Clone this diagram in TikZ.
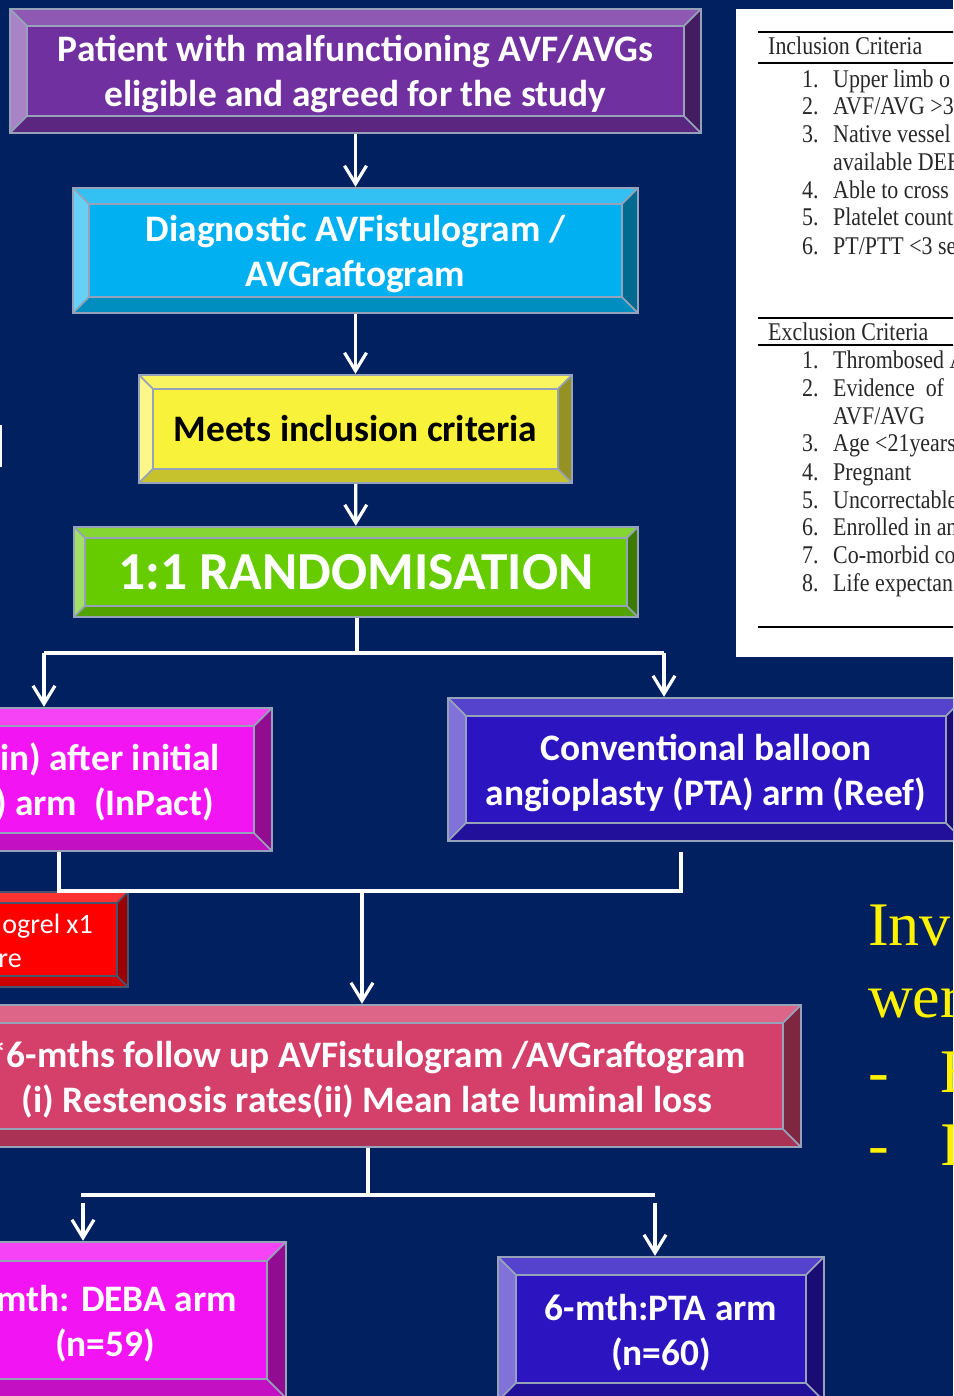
\documentclass[tikz,border=0pt]{standalone}
\usepackage{fontspec}
\setmainfont{Liberation Serif}
\newfontfamily\calibri{Carlito}
\newfontfamily\tabserif{Liberation Serif}[FakeStretch=0.86]
\usetikzlibrary{arrows.meta,calc}
\newcommand{\lowstrut}{\rule{0pt}{33pt}}

\definecolor{navy}{RGB}{0,32,96}
\definecolor{edgegray}{RGB}{150,162,185}
\definecolor{rededge}{RGB}{70,85,110}
\definecolor{purplebox}{RGB}{112,48,160}
\definecolor{cyanbox}{RGB}{0,176,240}
\definecolor{yellowbox}{RGB}{248,243,58}
\definecolor{greenbox}{RGB}{102,204,0}
\definecolor{magentabox}{RGB}{242,20,242}
\definecolor{bluebox}{RGB}{44,20,192}
\definecolor{redbox}{RGB}{255,0,0}
\definecolor{crimsonbox}{RGB}{212,64,106}
\definecolor{tabink}{RGB}{40,40,40}

\begin{document}
\begin{tikzpicture}[x=1pt,y=-1pt,
  bevel width/.store in=\bevw, bevel width=18pt,
  bevel edge/.store in=\bevedge, bevel edge=edgegray,
  bevelbox/.style={draw=\bevedge, line width=2.4pt, fill=#1, inner sep=0pt, align=center, text=white,
    font=\calibri\bfseries\fontsize{37.4}{45}\selectfont,
    path picture={
      \coordinate (bNW) at (path picture bounding box.north west);
      \coordinate (bSE) at (path picture bounding box.south east);
      \coordinate (bNE) at (bSE |- bNW);
      \coordinate (bSW) at (bNW |- bSE);
      \coordinate (iNW) at ([xshift=\bevw,yshift=-\bevw]bNW);
      \coordinate (iNE) at ([xshift=-\bevw,yshift=-\bevw]bNE);
      \coordinate (iSE) at ([xshift=-\bevw,yshift=\bevw]bSE);
      \coordinate (iSW) at ([xshift=\bevw,yshift=\bevw]bSW);
      \filldraw[draw=\bevedge, line width=1.6pt, fill=#1!80!white] (bNW) -- (bNE) -- (iNE) -- (iNW) -- cycle;
      \filldraw[draw=\bevedge, line width=1.6pt, fill=#1!60!white] (bNW) -- (iNW) -- (iSW) -- (bSW) -- cycle;
      \filldraw[draw=\bevedge, line width=1.6pt, fill=#1!80!black] (bSW) -- (iSW) -- (iSE) -- (bSE) -- cycle;
      \filldraw[draw=\bevedge, line width=1.6pt, fill=#1!60!black] (bNE) -- (bSE) -- (iSE) -- (iNE) -- cycle;
    }},
  armtext/.style={inner sep=0pt, text=white, font=\calibri\bfseries\fontsize{37.4}{45}\selectfont},
  tabtext/.style={inner sep=0pt, anchor=base west, text=tabink, font=\tabserif\fontsize{25.5}{28}\selectfont},
  yellowtext/.style={inner sep=0pt, anchor=base west, text=yellow, font=\fontsize{62}{72}\selectfont},
  link/.style={draw=white, line width=3.2pt},
  arr/.style={link, -{Straight Barb[length=18pt,width=22pt]}}]
\useasboundingbox (0,0) rectangle (953,1396);
\clip (0,0) rectangle (953,1396);
\fill[navy] (0,0) rectangle (953,1396);
\fill[white] (-5,425) rectangle (1.5,467);

% criteria table on the right
\fill[white] (736,9) rectangle (990,657);
\draw[black, line width=1.3pt] (758,32) -- (990,32);
\draw[black, line width=1.3pt] (758,63) -- (990,63);
\node[tabtext] (inc) at (768,55) {Inclusion Criteria};
\node[tabtext] (inc1) at (802,88) {\makebox[31pt][l]{1.}Upper limb o};
\node[tabtext] (inc2) at (802,115) {\makebox[31pt][l]{2.}AVF/AVG >3};
\node[tabtext] (inc3) at (802,143) {\makebox[31pt][l]{3.}Native vessel};
\node[tabtext] (inc3b) at (833,171) {available DEB};
\node[tabtext] (inc4) at (802,199) {\makebox[31pt][l]{4.}Able to cross};
\node[tabtext] (inc5) at (802,226) {\makebox[31pt][l]{5.}Platelet count};
\node[tabtext] (inc6) at (802,255) {\makebox[31pt][l]{6.}PT/PTT <3 se};
\draw[black, line width=1.3pt] (758,318) -- (990,318);
\draw[black, line width=1.3pt] (758,345) -- (990,345);
\node[tabtext] (exc) at (768,340) {Exclusion Criteria};
\node[tabtext] (exc1) at (802,368) {\makebox[31pt][l]{1.}Thrombosed A};
\node[tabtext] (exc2) at (802,396) {\makebox[31pt][l]{2.}Evidence\ \ of};
\node[tabtext] (exc2b) at (833,424) {AVF/AVG};
\node[tabtext] (exc3) at (802,451) {\makebox[31pt][l]{3.}Age <21years};
\node[tabtext] (exc4) at (802,480) {\makebox[31pt][l]{4.}Pregnant};
\node[tabtext] (exc5) at (802,508) {\makebox[31pt][l]{5.}Uncorrectable};
\node[tabtext] (exc6) at (802,535) {\makebox[31pt][l]{6.}Enrolled in an};
\node[tabtext] (exc7) at (802,563) {\makebox[31pt][l]{7.}Co-morbid co};
\node[tabtext] (exc8) at (802,591) {\makebox[31pt][l]{8.}Life expectan};
\draw[black, line width=1.3pt] (758,627) -- (990,627);

% yellow slide text
\node[yellowtext] (inv) at (868,945) {Inv};
\node[yellowtext] (wer) at (868,1017) {wer};
\node[yellowtext] (bul1) at (868,1092) {\makebox[72pt][l]{-}E};
\node[yellowtext] (bul2) at (868,1165) {\makebox[72pt][l]{-}I};

% main column
\node[bevelbox=purplebox, bevel width=17pt, minimum width=691pt, minimum height=124pt] (patient) at (355.5,71) {\lowstrut Patient with malfunctioning AVF/AVGs\\eligible and agreed for the study};
\node[bevelbox=cyanbox, bevel width=16pt, minimum width=565pt, minimum height=125pt] (diag) at (355.5,250.5) {\lowstrut Diagnostic AVFistulogram /\\AVGraftogram};
\node[bevelbox=yellowbox, bevel width=14pt, minimum width=433pt, minimum height=108pt, text=black] (meets) at (355.5,429) {Meets inclusion criteria};
\node[bevelbox=greenbox, bevel width=11pt, minimum width=564pt, minimum height=90pt, font=\calibri\bfseries\fontsize{53.5}{60}\selectfont] (rand) at (356,572) {1:1 RANDOMISATION};

% the two arms
\node[bevelbox=magentabox, minimum width=572pt, minimum height=143pt] (deba) at (-14,779.5) {};
\node[armtext, anchor=base east] (debaA) at (220,770) {in) after initial};
\node[armtext, anchor=base east] (debaB) at (214,815) {) arm\ \ (InPact)};
\node[bevelbox=bluebox, minimum width=516pt, minimum height=143pt] (pta) at (706,769.5) {\lowstrut Conventional balloon\\angioplasty (PTA) arm (Reef)};
\node[bevelbox=redbox, bevel width=11pt, bevel edge=rededge, minimum width=328pt, minimum height=95pt] (clop) at (-36,939.5) {};
\node[armtext, font=\calibri\fontsize{28}{34}\selectfont, anchor=base east] (clopA) at (93,933) {ogrel x1};
\node[armtext, font=\calibri\fontsize{28}{34}\selectfont, anchor=base east] (clopB) at (22,967) {re};

% follow up and outcomes
\node[bevelbox=crimsonbox, minimum width=868pt, minimum height=142pt] (follow) at (367,1076) {\lowstrut *6-mths follow up AVFistulogram /AVGraftogram\\(i) Restenosis rates(ii) Mean late luminal loss};
\node[bevelbox=magentabox, bevel width=19pt, minimum width=366pt, minimum height=156pt] (debaout) at (103,1320) {};
\node[armtext, anchor=base east] (debaoutA) at (237,1311) {mth: DEBA arm};
\node[armtext, anchor=base] (debaoutB) at (105,1356) {(n=59)};
\node[bevelbox=bluebox, minimum width=326pt, minimum height=144pt] (ptaout) at (661,1329) {\lowstrut 6-mth:PTA arm\\(n=60)};

% connectors
\draw[arr] (patient) -- (diag);
\draw[arr] (diag) -- (meets);
\draw[arr] (meets) -- (rand);
\coordinate (j1) at (357,653);
\coordinate (j1l) at (44,653);
\coordinate (j1r) at (664,653);
\draw[link] (rand.south -| j1) -- (j1);
\draw[link] (j1l) -- (j1r);
\draw[arr] (j1l) -- (j1l |- deba.north);
\draw[arr] (j1r) -- (j1r |- pta.north);
\coordinate (j2) at (362,891);
\coordinate (j2l) at (59,891);
\coordinate (j2r) at (681,891);
\draw[link] (j2l |- deba.south) -- (j2l) -- (j2r) -- ([yshift=-10pt]j2r |- pta.south);
\draw[arr] (j2) -- (j2 |- follow.north);
\coordinate (j3) at (368,1195);
\coordinate (j3l) at (81,1195);
\coordinate (j3r) at (655,1195);
\draw[link] (follow.south -| j3) -- (j3);
\draw[link] (j3l) -- (j3r);
\draw[arr] ([xshift=2pt,yshift=-8pt]j3l) -- ([xshift=2pt]j3l |- debaout.north);
\draw[arr] ([yshift=-8pt]j3r) -- (j3r |- ptaout.north);
\end{tikzpicture}
\end{document}
